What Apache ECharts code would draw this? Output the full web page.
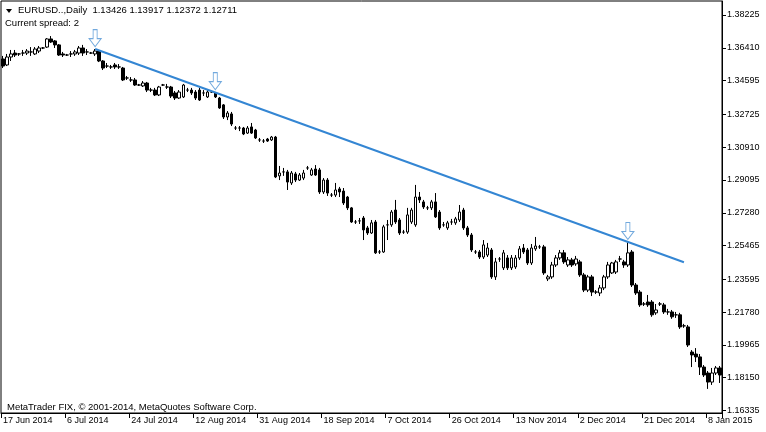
<!DOCTYPE html>
<html>
<head>
<meta charset="utf-8">
<title>EURUSD Daily</title>
<script src="https://cdn.jsdelivr.net/npm/echarts@6/dist/echarts.min.js"></script>
<style>
  html, body { margin: 0; padding: 0; background: #fff; }
  #chart { width: 766px; height: 432px; }
</style>
</head>
<body>
<div id="chart"></div>
<script>
// daily bars, 17 Jun 2014 .. 12 Jan 2015 (broker has Sunday bars)
const opens = [
  1.3579, 1.3546, 1.3590, 1.3612, 1.3607, 1.3612, 1.3612, 1.3618, 1.3607, 1.3623,
  1.3640, 1.3645, 1.3690, 1.3679, 1.3657, 1.3607, 1.3601, 1.3607, 1.3607, 1.3612,
  1.3640, 1.3618, 1.3612, 1.3607, 1.3623, 1.3568, 1.3540, 1.3535, 1.3546, 1.3535,
  1.3529, 1.3474, 1.3463, 1.3463, 1.3435, 1.3430, 1.3446, 1.3407, 1.3407, 1.3380,
  1.3435, 1.3424, 1.3424, 1.3391, 1.3363, 1.3369, 1.3407, 1.3407, 1.3396, 1.3407,
  1.3391, 1.3369, 1.3396, 1.3391, 1.3363, 1.3325, 1.3258, 1.3275, 1.3197, 1.3197,
  1.3197, 1.3169, 1.3203, 1.3186, 1.3131, 1.3125, 1.3136, 1.3131, 1.3147, 1.2932,
  1.2954, 1.2954, 1.2893, 1.2943, 1.2909, 1.2920, 1.2976, 1.2937, 1.2970, 1.2965,
  1.2843, 1.2909, 1.2826, 1.2826, 1.2860, 1.2848, 1.2815, 1.2755, 1.2677, 1.2683,
  1.2699, 1.2644, 1.2616, 1.2677, 1.2511, 1.2511, 1.2661, 1.2661, 1.2743, 1.2688,
  1.2621, 1.2621, 1.2677, 1.2661, 1.2815, 1.2788, 1.2755, 1.2755, 1.2788, 1.2732,
  1.2661, 1.2644, 1.2677, 1.2672, 1.2688, 1.2743, 1.2644, 1.2605, 1.2511, 1.2511,
  1.2483, 1.2494, 1.2522, 1.2373, 1.2472, 1.2423, 1.2478, 1.2423, 1.2428, 1.2478,
  1.2533, 1.2522, 1.2450, 1.2528, 1.2539, 1.2539, 1.2362, 1.2373, 1.2439, 1.2478,
  1.2506, 1.2439, 1.2467, 1.2445, 1.2456, 1.2384, 1.2300, 1.2373, 1.2289, 1.2284,
  1.2312, 1.2373, 1.2395, 1.2400, 1.2472, 1.2456, 1.2439, 1.2511, 1.2328, 1.2289,
  1.2223, 1.2234, 1.2234, 1.2174, 1.2223, 1.2218, 1.2179, 1.2179, 1.2163, 1.2163,
  1.2102, 1.2096, 1.1957, 1.1946, 1.1930, 1.1874, 1.1841, 1.1791, 1.1841, 1.1869
];
const closes = [
  1.3540, 1.3590, 1.3607, 1.3601, 1.3607, 1.3612, 1.3623, 1.3618, 1.3634, 1.3640,
  1.3640, 1.3690, 1.3673, 1.3657, 1.3601, 1.3601, 1.3601, 1.3607, 1.3618, 1.3640,
  1.3612, 1.3618, 1.3612, 1.3623, 1.3568, 1.3529, 1.3540, 1.3535, 1.3535, 1.3535,
  1.3463, 1.3474, 1.3463, 1.3435, 1.3435, 1.3446, 1.3407, 1.3407, 1.3380, 1.3424,
  1.3435, 1.3424, 1.3374, 1.3363, 1.3396, 1.3435, 1.3407, 1.3391, 1.3363, 1.3352,
  1.3391, 1.3396, 1.3396, 1.3369, 1.3308, 1.3258, 1.3280, 1.3219, 1.3197, 1.3197,
  1.3164, 1.3197, 1.3169, 1.3142, 1.3131, 1.3125, 1.3125, 1.3147, 1.2926, 1.2948,
  1.2954, 1.2898, 1.2948, 1.2909, 1.2937, 1.2948, 1.2976, 1.2965, 1.2937, 1.2843,
  1.2909, 1.2837, 1.2826, 1.2854, 1.2843, 1.2782, 1.2755, 1.2677, 1.2677, 1.2683,
  1.2633, 1.2616, 1.2672, 1.2506, 1.2511, 1.2650, 1.2661, 1.2732, 1.2677, 1.2616,
  1.2621, 1.2716, 1.2743, 1.2815, 1.2799, 1.2760, 1.2755, 1.2788, 1.2705, 1.2644,
  1.2661, 1.2672, 1.2677, 1.2694, 1.2732, 1.2644, 1.2605, 1.2522, 1.2511, 1.2483,
  1.2550, 1.2533, 1.2373, 1.2456, 1.2472, 1.2506, 1.2423, 1.2478, 1.2478, 1.2528,
  1.2511, 1.2450, 1.2533, 1.2544, 1.2539, 1.2395, 1.2373, 1.2439, 1.2478, 1.2506,
  1.2456, 1.2467, 1.2439, 1.2472, 1.2384, 1.2300, 1.2373, 1.2289, 1.2289, 1.2312,
  1.2373, 1.2439, 1.2450, 1.2456, 1.2472, 1.2439, 1.2506, 1.2328, 1.2284, 1.2218,
  1.2223, 1.2218, 1.2163, 1.2190, 1.2223, 1.2179, 1.2179, 1.2152, 1.2163, 1.2096,
  1.2102, 1.1996, 1.1941, 1.1930, 1.1874, 1.1830, 1.1791, 1.1841, 1.1869, 1.1830
];
const lows = [
  1.3529, 1.3540, 1.3568, 1.3590, 1.3596, 1.3596, 1.3601, 1.3596, 1.3601, 1.3612,
  1.3634, 1.3640, 1.3668, 1.3640, 1.3596, 1.3590, 1.3596, 1.3590, 1.3596, 1.3601,
  1.3596, 1.3601, 1.3607, 1.3596, 1.3562, 1.3518, 1.3529, 1.3524, 1.3524, 1.3524,
  1.3457, 1.3463, 1.3452, 1.3430, 1.3430, 1.3424, 1.3396, 1.3396, 1.3374, 1.3374,
  1.3430, 1.3413, 1.3363, 1.3352, 1.3358, 1.3363, 1.3396, 1.3380, 1.3352, 1.3347,
  1.3374, 1.3363, 1.3391, 1.3363, 1.3303, 1.3247, 1.3241, 1.3208, 1.3186, 1.3180,
  1.3158, 1.3164, 1.3164, 1.3136, 1.3120, 1.3114, 1.3120, 1.3125, 1.2920, 1.2909,
  1.2932, 1.2854, 1.2882, 1.2898, 1.2904, 1.2909, 1.2965, 1.2932, 1.2932, 1.2832,
  1.2832, 1.2821, 1.2815, 1.2815, 1.2815, 1.2771, 1.2743, 1.2672, 1.2666, 1.2666,
  1.2577, 1.2605, 1.2611, 1.2500, 1.2500, 1.2506, 1.2577, 1.2650, 1.2666, 1.2605,
  1.2611, 1.2611, 1.2666, 1.2650, 1.2782, 1.2749, 1.2743, 1.2743, 1.2699, 1.2633,
  1.2650, 1.2633, 1.2661, 1.2661, 1.2677, 1.2633, 1.2594, 1.2511, 1.2500, 1.2472,
  1.2472, 1.2483, 1.2362, 1.2356, 1.2456, 1.2411, 1.2411, 1.2411, 1.2417, 1.2467,
  1.2500, 1.2439, 1.2439, 1.2517, 1.2528, 1.2384, 1.2350, 1.2362, 1.2428, 1.2467,
  1.2445, 1.2428, 1.2428, 1.2434, 1.2373, 1.2289, 1.2289, 1.2267, 1.2278, 1.2267,
  1.2300, 1.2362, 1.2389, 1.2389, 1.2456, 1.2423, 1.2428, 1.2317, 1.2273, 1.2207,
  1.2212, 1.2207, 1.2152, 1.2163, 1.2212, 1.2168, 1.2163, 1.2141, 1.2146, 1.2085,
  1.2091, 1.1985, 1.1874, 1.1902, 1.1830, 1.1819, 1.1753, 1.1775, 1.1830, 1.1786
];
const highs = [
  1.3596, 1.3607, 1.3629, 1.3629, 1.3612, 1.3629, 1.3634, 1.3645, 1.3645, 1.3651,
  1.3645, 1.3695, 1.3706, 1.3684, 1.3662, 1.3618, 1.3607, 1.3623, 1.3629, 1.3651,
  1.3657, 1.3634, 1.3618, 1.3634, 1.3629, 1.3573, 1.3557, 1.3546, 1.3557, 1.3551,
  1.3535, 1.3485, 1.3479, 1.3474, 1.3441, 1.3457, 1.3452, 1.3419, 1.3419, 1.3430,
  1.3441, 1.3441, 1.3430, 1.3402, 1.3407, 1.3441, 1.3419, 1.3419, 1.3407, 1.3419,
  1.3407, 1.3407, 1.3402, 1.3396, 1.3369, 1.3330, 1.3291, 1.3286, 1.3208, 1.3208,
  1.3203, 1.3208, 1.3225, 1.3192, 1.3142, 1.3136, 1.3142, 1.3153, 1.3153, 1.2987,
  1.2976, 1.2965, 1.2959, 1.2954, 1.2948, 1.2965, 1.2987, 1.2976, 1.2992, 1.2976,
  1.2920, 1.2920, 1.2837, 1.2893, 1.2871, 1.2865, 1.2821, 1.2760, 1.2688, 1.2699,
  1.2710, 1.2655, 1.2688, 1.2688, 1.2522, 1.2661, 1.2688, 1.2743, 1.2799, 1.2699,
  1.2633, 1.2755, 1.2755, 1.2882, 1.2843, 1.2799, 1.2766, 1.2799, 1.2837, 1.2743,
  1.2677, 1.2683, 1.2694, 1.2705, 1.2771, 1.2755, 1.2655, 1.2616, 1.2522, 1.2522,
  1.2577, 1.2561, 1.2533, 1.2478, 1.2483, 1.2522, 1.2494, 1.2494, 1.2494, 1.2544,
  1.2555, 1.2533, 1.2555, 1.2594, 1.2550, 1.2550, 1.2384, 1.2456, 1.2494, 1.2522,
  1.2522, 1.2483, 1.2478, 1.2489, 1.2467, 1.2395, 1.2384, 1.2384, 1.2300, 1.2328,
  1.2384, 1.2456, 1.2456, 1.2467, 1.2489, 1.2467, 1.2566, 1.2522, 1.2339, 1.2300,
  1.2234, 1.2273, 1.2245, 1.2223, 1.2234, 1.2229, 1.2196, 1.2190, 1.2179, 1.2174,
  1.2113, 1.2107, 1.1968, 1.1979, 1.1946, 1.1885, 1.1852, 1.1869, 1.1880, 1.1880
];

// price scale labels as the terminal prints them
const priceTicks = [1.38225, 1.36410, 1.34595, 1.32725, 1.30910, 1.29095, 1.27280,
  1.25465, 1.23595, 1.21780, 1.19965, 1.18150, 1.16335];

// trend line anchors [bar index, price] and the arrow objects
const trendLine = [[23, 1.3634], [170, 1.2454]];
const arrowMarks = [[23, 1.3634], [53, 1.3396], [156, 1.2566]];

const MONTHS = ['Jan', 'Feb', 'Mar', 'Apr', 'May', 'Jun', 'Jul', 'Aug', 'Sep', 'Oct', 'Nov', 'Dec'];
const dates = [];
for (let d = new Date(2014, 5, 17); dates.length < opens.length; d.setDate(d.getDate() + 1)) {
  if (d.getDay() === 6) continue; // no Saturday bars
  dates.push(d.getDate() + ' ' + MONTHS[d.getMonth()] + ' ' + d.getFullYear());
}

const candles = opens.map((o, i) => [o, closes[i], lows[i], highs[i]]);

const FONT = '"Liberation Sans", Arial, sans-serif';
const chart = echarts.init(document.getElementById('chart'));

chart.setOption({
  animation: false,
  backgroundColor: '#fff',
  textStyle: { fontFamily: FONT },
  grid: {
    left: 1, right: 44, top: 1, bottom: 19,
    show: true, borderColor: '#000', borderWidth: 1, backgroundColor: '#fff'
  },
  xAxis: {
    type: 'category',
    data: dates,
    boundaryGap: true,
    axisLine: { show: true, lineStyle: { color: '#000', width: 1 } },
    axisTick: { show: true, interval: 15, length: 5, lineStyle: { color: '#000' } },
    axisLabel: {
      interval: 15, align: 'left', margin: 3,
      color: '#000', fontSize: 9, fontFamily: FONT
    },
    splitLine: { show: false }
  },
  yAxis: {
    type: 'value',
    position: 'right',
    min: 1.16197,
    max: 1.39000,
    axisLine: { show: true, lineStyle: { color: '#000', width: 1 } },
    axisTick: { show: true, length: 4, customValues: priceTicks, lineStyle: { color: '#000' } },
    axisLabel: {
      customValues: priceTicks, margin: 5,
      color: '#000', fontSize: 9, fontFamily: FONT,
      formatter: (v) => v.toFixed(5)
    },
    splitLine: { show: false }
  },
  graphic: [
    { type: 'polygon', shape: { points: [[6, 9], [12, 9], [9, 13]] }, style: { fill: '#000' } },
    { type: 'text', left: 18, top: 5,
      style: { text: 'EURUSD..,Daily  1.13426 1.13917 1.12372 1.12711', fill: '#000', font: '9.5px ' + FONT } },
    { type: 'text', left: 5, top: 18,
      style: { text: 'Current spread: 2', fill: '#000', font: '9.5px ' + FONT } },
    { type: 'text', left: 7, top: 402,
      style: { text: 'MetaTrader FIX, \u00a9 2001-2014, MetaQuotes Software Corp.', fill: '#000', font: '9.5px ' + FONT } }
  ],
  series: [
    {
      type: 'candlestick',
      data: candles,
      barWidth: 3,
      itemStyle: {
        color: '#fff', color0: '#000',
        borderColor: '#000', borderColor0: '#000', borderWidth: 1
      }
    },
    {
      type: 'line',
      data: trendLine,
      symbol: 'none',
      lineStyle: { color: '#3486d3', width: 2 },
      z: 5
    },
    {
      type: 'scatter',
      data: arrowMarks,
      symbol: 'path://M4,0L8,0L8,9L12,9L6,17L0,9L4,9Z',
      symbolSize: [12, 17],
      symbolOffset: [0, -11],
      itemStyle: { color: '#fff', borderColor: '#4f94d4', borderWidth: 1 },
      z: 6
    }
  ]
});
</script>
</body>
</html>
